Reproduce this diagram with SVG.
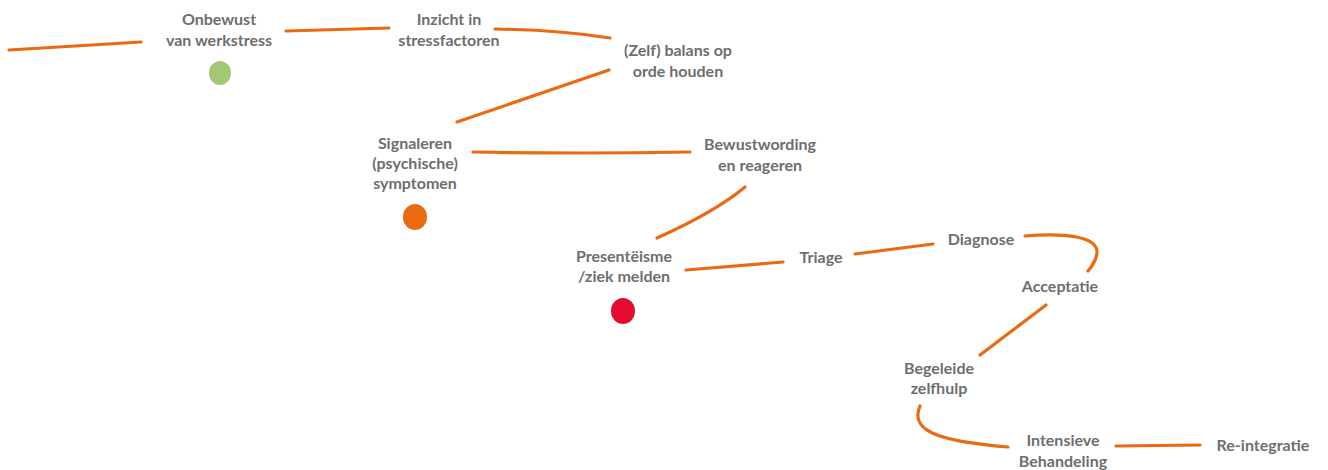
<svg xmlns="http://www.w3.org/2000/svg" width="1328" height="470" viewBox="0 0 1328 470">
<style>
.t{font-family:Lato,"Open Sans","Liberation Sans",sans-serif;font-weight:bold;font-size:16px;fill:#6e6e6e;text-anchor:middle}
.c{fill:none;stroke:#ea6a12;stroke-width:3.2;stroke-linecap:round}
</style>
<rect width="1328" height="470" fill="#ffffff"/>
<g id="connectors">
<path class="c" d="M9,50 L141,42"/>
<path class="c" d="M286,31 L389,28"/>
<path class="c" d="M495,29 Q560,30 610,38"/>
<path class="c" d="M609,70 L457,122"/>
<path class="c" d="M473,152 Q580,154 690,152"/>
<path class="c" d="M745,187 Q715,212 657,238"/>
<path class="c" d="M686,270 L783,262"/>
<path class="c" d="M855,254 L933,244"/>
<path class="c" d="M1025,236 C1065,233 1098,236 1097,253 C1096,261 1092,266 1088,271"/>
<path class="c" d="M1046,305 L980,355"/>
<path class="c" d="M920,406 C910,430 935,441 1008,447"/>
<path class="c" d="M1116,446 L1200,445"/>
</g>
<g id="onbewust">
<text class="t" x="219" y="25">Onbewust</text>
<text class="t" x="219" y="46">van werkstress</text>
<ellipse cx="220" cy="73" rx="11" ry="12" fill="#a3c874"/>
</g>
<g id="inzicht">
<text class="t" x="449" y="25">Inzicht in</text>
<text class="t" x="449" y="46">stressfactoren</text>
</g>
<g id="zelfbalans">
<text class="t" x="678" y="56">(Zelf) balans op</text>
<text class="t" x="678" y="77">orde houden</text>
</g>
<g id="signaleren">
<text class="t" x="415" y="149">Signaleren</text>
<text class="t" x="415" y="169">(psychische)</text>
<text class="t" x="415" y="189">symptomen</text>
<ellipse cx="415" cy="217" rx="12" ry="13" fill="#ea6a12"/>
</g>
<g id="bewustwording">
<text class="t" x="760" y="150">Bewustwording</text>
<text class="t" x="760" y="171">en reageren</text>
</g>
<g id="presenteisme">
<text class="t" x="624" y="262">Presentëisme</text>
<text class="t" x="624" y="282">/ziek melden</text>
<ellipse cx="623" cy="311" rx="12" ry="13" fill="#e30b30"/>
</g>
<g id="triage">
<text class="t" x="821" y="263">Triage</text>
</g>
<g id="diagnose">
<text class="t" x="981" y="245">Diagnose</text>
</g>
<g id="acceptatie">
<text class="t" x="1060" y="292">Acceptatie</text>
</g>
<g id="begeleide">
<text class="t" x="939" y="374">Begeleide</text>
<text class="t" x="939" y="394">zelfhulp</text>
</g>
<g id="intensieve">
<text class="t" x="1063" y="446">Intensieve</text>
<text class="t" x="1063" y="467">Behandeling</text>
</g>
<g id="reintegratie">
<text class="t" x="1263" y="451">Re-integratie</text>
</g>
</svg>
